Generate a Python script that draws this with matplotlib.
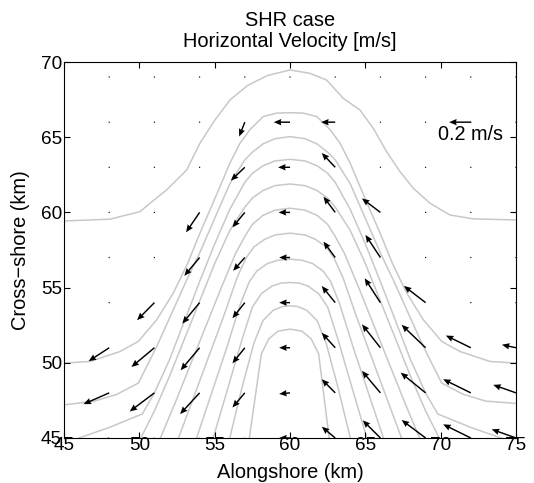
"""SHR case - horizontal velocity vectors over gray depth contours."""

import matplotlib

matplotlib.use("Agg")
import matplotlib.pyplot as plt
import numpy as np

plt.rcParams["font.family"] = ["Liberation Sans", "DejaVu Sans"]

# vector grid (km)
X_COLS = [48, 51, 54, 57, 60, 63, 66, 69, 72, 75]
Y_ROWS = [45, 48, 51, 54, 57, 60, 63, 66, 69]

# velocity components (m/s), one row per Y_ROWS entry, bottom row first
U_ROWS = [
    [-0.24, -0.22, -0.18, -0.11, -0.10, -0.124, -0.163, -0.221, -0.255, -0.224],
    [-0.237, -0.228, -0.18, -0.114, -0.10, -0.124, -0.17, -0.23, -0.255, -0.21],
    [-0.19, -0.212, -0.175, -0.114, -0.10, -0.124, -0.17, -0.221, -0.23, -0.13],
    [0.0, -0.16, -0.16, -0.114, -0.10, -0.124, -0.145, -0.20, 0.0, 0.0],
    [0.0, 0.0, -0.141, -0.108, -0.10, -0.108, -0.138, 0.0, 0.0, 0.0],
    [0.0, 0.0, -0.125, -0.114, -0.105, -0.108, -0.17, 0.0, 0.0, 0.0],
    [0.0, 0.0, 0.0, -0.129, -0.11, -0.124, 0.0, 0.0, 0.0, 0.0],
    [0.0, 0.0, 0.0, -0.052, -0.15, -0.13, 0.0, 0.0, 0.0, 0.0],
    [0.0, 0.0, 0.0, 0.0, 0.0, 0.0, 0.0, 0.0, 0.0, 0.0],
]
V_ROWS = [
    [-0.10, -0.17, -0.19, -0.13, 0.0, 0.104, 0.163, 0.166, 0.126, 0.08],
    [-0.104, -0.172, -0.196, -0.135, -0.01, 0.126, 0.203, 0.187, 0.126, 0.074],
    [-0.124, -0.178, -0.208, -0.144, 0.0, 0.138, 0.216, 0.212, 0.113, 0.028],
    [0.0, -0.162, -0.194, -0.144, 0.0, 0.154, 0.225, 0.154, 0.0, 0.0],
    [0.0, 0.0, -0.169, -0.123, 0.0, 0.147, 0.209, 0.0, 0.0, 0.0],
    [0.0, 0.0, -0.184, -0.138, 0.0, 0.145, 0.129, 0.0, 0.0, 0.0],
    [0.0, 0.0, 0.0, -0.123, 0.0, 0.132, 0.0, 0.0, 0.0, 0.0],
    [0.0, 0.0, 0.0, -0.132, 0.0, 0.0, 0.0, 0.0, 0.0, 0.0],
    [0.0, 0.0, 0.0, 0.0, 0.0, 0.0, 0.0, 0.0, 0.0, 0.0],
]

# reference arrow
REF_X, REF_Y, REF_SPEED = 72, 66, 0.2
REF_LABEL = "0.2 m/s"

# depth contours, outermost first (km)
CONTOUR_X = [
    [45, 48.05, 50.04, 50.71, 51.81, 53.14, 54.02, 55.02, 56.02, 57.2, 58.5, 60,
     61.32, 62.43, 63.53, 64.64, 65.52, 66.41, 67.3, 68.18, 69.29, 70.61, 72.16, 75],
    [45, 46.73, 48.72, 49.93, 51.15, 52.25, 53.2, 54.02, 54.69, 55.35, 56.02, 56.68,
     57.34, 58.22, 59.1, 60, 60.9, 61.78, 62.66, 63.32, 63.98, 64.65, 65.31, 65.98,
     66.8, 67.75, 68.85, 70.07, 71.28, 73.27, 75],
    [45, 47, 48.5, 49.93, 51.15, 52.25, 53.14, 54, 55, 56, 57, 57.5, 58.2, 59, 60,
     61, 61.8, 62.5, 63, 64, 65, 66, 66.86, 67.75, 68.85, 70.07, 71.5, 73, 75],
    [45, 46, 48, 50.2, 51, 52, 53, 54, 55, 56, 57, 57.5, 58.2, 59, 60,
     61, 61.8, 62.5, 63, 64, 65, 66, 67, 68, 69, 69.8, 72, 74, 75],
    [50.1, 51, 52, 53, 54, 55, 56, 57, 57.5, 58.2, 59, 60,
     61, 61.8, 62.5, 63, 64, 65, 66, 67, 68, 69, 69.9],
    [51.4, 52.4, 53.4, 54.4, 55.4, 56.4, 57, 57.5, 58.2, 59, 60,
     61, 61.8, 62.5, 63, 63.6, 64.6, 65.6, 66.6, 67.6, 68.6],
    [52.6, 53.6, 54.6, 55.6, 56.5, 57.1, 57.6, 58.3, 59, 60,
     61, 61.7, 62.4, 62.9, 63.5, 64.4, 65.4, 66.4, 67.4],
    [53.8, 54.8, 55.8, 56.7, 57.3, 57.8, 58.5, 59.2, 60,
     60.8, 61.5, 62.2, 62.7, 63.3, 64.2, 65.2, 66.2],
    [54.9, 55.9, 56.8, 57.5, 58.1, 58.8, 59.4, 60,
     60.6, 61.2, 61.9, 62.5, 63.2, 64.1, 65.1],
    [56.0, 56.8, 57.6, 58.2, 58.9, 59.5, 60,
     60.5, 61.1, 61.8, 62.4, 63.2, 64.0],
    [57.3, 58.1, 58.6, 59.2, 60, 60.8, 61.4, 61.9, 62.6],
]
CONTOUR_Y = [
    [59.43, 59.55, 60.05, 60.61, 61.5, 62.82, 64.6, 66.15, 67.48, 68.45, 69.1, 69.47,
     69.25, 68.8, 67.59, 66.81, 65.6, 64.04, 62.71, 61.61, 60.61, 59.83, 59.57, 59.5],
    [49.98, 50.09, 50.75, 51.42, 52.86, 54.63, 56.6, 58.62, 60.17, 61.71, 63.3, 64.6,
     65.5, 66.37, 66.6, 66.63, 66.6, 66.37, 65.5, 64.6, 63.3, 61.71, 60.17, 58.62,
     56.6, 54.63, 52.86, 51.42, 50.75, 50.09, 49.98],
    [47.2, 47.45, 47.9, 48.65, 51.08, 53.52, 55.5, 57.3, 59.6, 61.9, 63.5, 64.0, 64.55, 64.9, 65.04,
     64.9, 64.55, 64.0, 63.5, 61.9, 59.6, 57.3, 55.5, 53.52, 51.08, 48.65, 47.9, 47.45, 47.3],
    [44.6, 45.0, 45.7, 46.6, 48.0, 50.2, 52.8, 55.4, 57.9, 60.2, 62.0, 62.6, 63.1, 63.42, 63.53,
     63.42, 63.1, 62.6, 62.0, 60.2, 57.9, 55.4, 52.8, 50.2, 48.0, 46.6, 45.7, 45.0, 44.6],
    [45, 46.8, 49.1, 51.6, 54.1, 56.6, 58.8, 60.35, 60.95, 61.45, 61.78, 61.89,
     61.78, 61.45, 60.95, 60.35, 58.8, 56.6, 54.1, 51.6, 49.1, 46.8, 45],
    [45, 47.4, 49.9, 52.4, 54.9, 57.3, 58.4, 59.2, 59.8, 60.15, 60.28,
     60.15, 59.8, 59.2, 58.4, 57.3, 54.9, 52.4, 49.9, 47.4, 45],
    [45, 47.7, 50.4, 53.1, 55.7, 57.0, 57.7, 58.2, 58.5, 58.62,
     58.5, 58.2, 57.7, 57.0, 55.7, 53.1, 50.4, 47.7, 45],
    [45, 48.0, 51.0, 53.9, 55.4, 56.1, 56.6, 56.82, 56.89,
     56.82, 56.6, 56.1, 55.4, 53.9, 51.0, 48.0, 45],
    [45, 48.4, 51.5, 53.7, 54.6, 55.1, 55.3, 55.34,
     55.3, 55.1, 54.6, 53.7, 51.5, 48.4, 45],
    [45, 48.3, 51.3, 52.8, 53.5, 53.74, 53.79,
     53.74, 53.5, 52.8, 51.3, 48.3, 45],
    [45, 50.6, 51.6, 52.1, 52.24, 52.1, 51.6, 50.6, 45],
]


def main():
    fig = plt.figure(figsize=(5.34, 4.83), dpi=100)
    ax = fig.add_axes([0.1199, 0.0932, 0.8464, 0.7784])

    for xs, ys in zip(CONTOUR_X, CONTOUR_Y):
        ax.plot(xs, ys, color="#c8c8c8", lw=1.1, zorder=1)

    gx, gy = np.meshgrid(X_COLS, Y_ROWS)
    arrow_kw = dict(
        angles="xy", scale_units="xy", scale=1 / 7.2, pivot="tail",
        units="dots", width=1.45, headwidth=4.4, headlength=5.2,
        headaxislength=4.8, color="black", zorder=3,
    )
    ax.quiver(gx, gy, np.array(U_ROWS), np.array(V_ROWS), **arrow_kw)

    # scale arrow and label
    ax.quiver([REF_X], [REF_Y], [-REF_SPEED], [0.0], **arrow_kw)
    ax.text(69.8, 65.2, REF_LABEL, fontsize=14.3, ha="left", va="center")

    ax.set_xlim(45, 75)
    ax.set_ylim(45, 70)
    ax.set_xticks(range(45, 76, 5))
    ax.set_yticks(range(45, 71, 5))
    ax.tick_params(direction="in", top=True, right=True, length=4,
                   width=0.8, labelsize=13.7)
    ax.tick_params(axis="x", pad=-0.5)
    ax.tick_params(axis="y", pad=1.5)
    for spine in ax.spines.values():
        spine.set_linewidth(0.8)

    ax.set_xlabel("Alongshore (km)", fontsize=14.4, labelpad=6)
    ax.set_ylabel("Cross\u2212shore (km)", fontsize=14.4, labelpad=7.5)
    ax.set_title("SHR case\nHorizontal Velocity [m/s]", fontsize=14.4,
                 linespacing=1.13, pad=10.5)

    fig.savefig("out.png", dpi=100)
    plt.close(fig)


if __name__ == "__main__":
    main()
